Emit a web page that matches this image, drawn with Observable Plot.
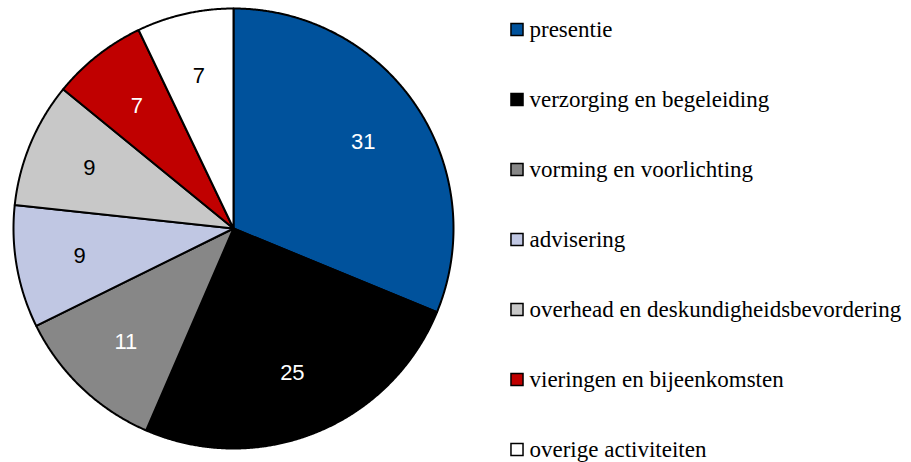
<!DOCTYPE html>
<html>
<head>
<meta charset="utf-8">
<script src="https://cdn.jsdelivr.net/npm/d3@7"></script>
<script src="https://cdn.jsdelivr.net/npm/@observablehq/plot@0.6"></script>
<style>
  html, body { margin: 0; padding: 0; background: #fff; overflow: hidden; }
  #wrap { position: relative; width: 911px; height: 462px; }
  #chart { position: absolute; left: 0; top: 0; }
  #legend { position: absolute; left: 505px; top: 0; }
</style>
</head>
<body>
<div id="wrap"><div id="chart"></div><div id="legend"></div></div>
<script>
const categories = ["presentie", "verzorging en begeleiding", "vorming en voorlichting", "advisering", "overhead en deskundigheidsbevordering", "vieringen en bijeenkomsten", "overige activiteiten"];
const values = [31.2, 25.3, 11.2, 9.0, 9.2, 7.0, 7.1];
const valueLabels = ["31", "25", "11", "9", "9", "7", "7"];
const colors = ["#00529c", "#000000", "#878787", "#c0c7e3", "#c8c8c8", "#c00000", "#ffffff"];

const arcs = d3.pie().sort(null).value(d => d)(values);
const pts = [];
arcs.forEach((a, i) => {
  pts.push({cat: categories[i], x: 0, y: 0});
  const n = Math.max(2, Math.ceil((a.endAngle - a.startAngle) / 0.005));
  for (let k = 0; k <= n; k++) {
    const t = a.startAngle + (a.endAngle - a.startAngle) * k / n;
    pts.push({cat: categories[i], x: Math.sin(t), y: Math.cos(t)});
  }
  pts.push({cat: categories[i], x: 0, y: 0});
});
const lab = arcs.map((a, i) => {
  const m = (a.startAngle + a.endAngle) / 2;
  const r = 0.71;
  return {x: Math.sin(m) * r, y: Math.cos(m) * r, text: valueLabels[i], dark: d3.lab(colors[i]).l < 60};
});

const chart = Plot.plot({
  width: 470,
  height: 462,
  margin: 0,
  style: {background: "transparent"},
  x: {domain: [-1, 1], range: [13, 453], axis: null},
  y: {domain: [-1, 1], range: [448, 8], axis: null},
  color: {type: "ordinal", domain: categories, range: colors},
  marks: [
    Plot.line(pts, {x: "x", y: "y", z: "cat", fill: "cat", stroke: "#000", strokeWidth: 2, strokeLinejoin: "round", curve: "linear"}),
    Plot.text(lab.filter(d => d.dark), {x: "x", y: "y", text: "text", fill: "white", fontSize: 22, fontFamily: "Liberation Sans"}),
    Plot.text(lab.filter(d => !d.dark), {x: "x", y: "y", text: "text", fill: "black", fontSize: 22, fontFamily: "Liberation Sans"})
  ]
});
document.getElementById("chart").appendChild(chart);

const legendPlot = Plot.plot({
  width: 406,
  height: 462,
  margin: 0,
  style: {background: "transparent"},
  x: {axis: null},
  y: {type: "point", domain: categories, range: [27, 450], padding: 0, axis: null},
  color: {type: "ordinal", domain: categories, range: colors},
  marks: [
    Plot.dot(categories, {frameAnchor: "left", y: d => d, dx: 11.5, symbol: "square", r: 6.8, fill: d => d, stroke: "#000", strokeWidth: 1.5}),
    Plot.text(categories, {frameAnchor: "left", y: d => d, dx: 24, text: d => d, textAnchor: "start", fill: "#000", fontSize: 23, fontFamily: "Liberation Serif"})
  ]
});
document.getElementById("legend").appendChild(legendPlot);
</script>
</body>
</html>
